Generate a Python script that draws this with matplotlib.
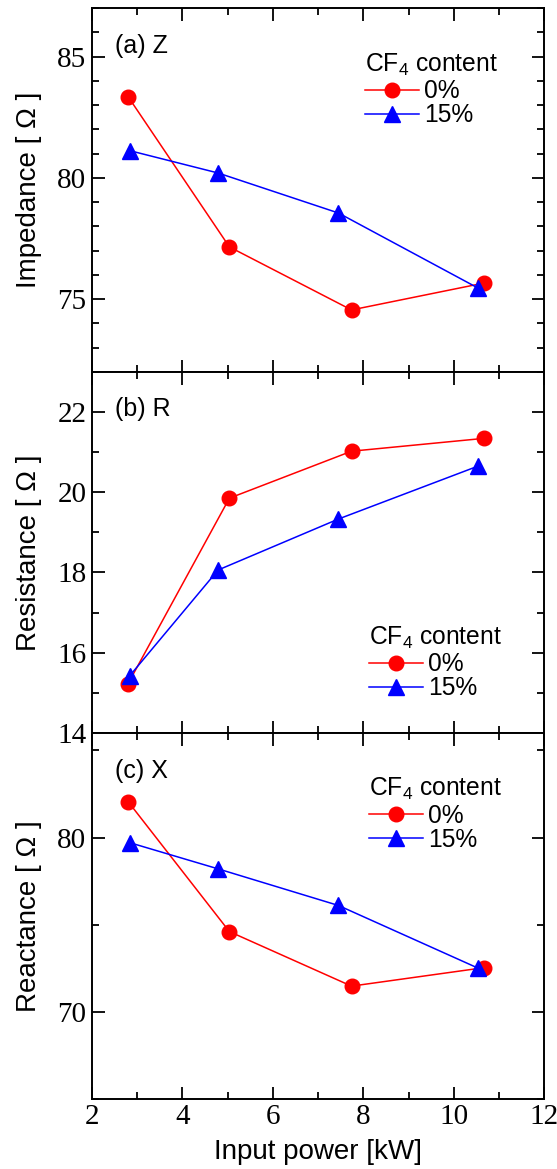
import matplotlib
matplotlib.use('Agg')
import matplotlib.pyplot as plt
from matplotlib.ticker import MultipleLocator

# Data (input power in kW)
power_0 = [2.80, 5.04, 7.74, 10.67]
power_15 = [2.84, 4.79, 7.45, 10.54]

impedance_0 = [83.35, 77.15, 74.55, 75.66]
impedance_15 = [81.12, 80.20, 78.55, 75.45]

resistance_0 = [15.23, 19.85, 21.02, 21.34]
resistance_15 = [15.43, 18.06, 19.33, 20.65]

reactance_0 = [82.06, 74.60, 71.47, 72.53]
reactance_15 = [79.70, 78.20, 76.10, 72.50]

series_labels = ['0%', '15%']
panel_tags = ['(a) Z', '(b) R', '(c) X']
y_labels = ['Impedance [ \u03a9 ]', 'Resistance [ \u03a9 ]', 'Reactance [ \u03a9 ]']

plt.rcParams['font.family'] = 'Liberation Sans'
plt.rcParams['mathtext.fontset'] = 'custom'
plt.rcParams['mathtext.rm'] = 'Liberation Sans'
plt.rcParams['mathtext.it'] = 'Liberation Sans:italic'

fig = plt.figure(figsize=(5.57, 11.69), dpi=100)

# axes boxes in figure fraction: left, bottom, width, height
left, width = 0.165, 0.812
ax_a = fig.add_axes([left, 0.682, width, 0.311])
ax_b = fig.add_axes([left, 0.373, width, 0.309])
ax_c = fig.add_axes([left, 0.060, width, 0.313])
axes = [ax_a, ax_b, ax_c]

data = [
    (impedance_0, impedance_15),
    (resistance_0, resistance_15),
    (reactance_0, reactance_15),
]

# y settings: limits, major step, minor step
y_limits = [(72, 87), (14, 23), (65, 86)]
y_major = [5, 2, 10]
y_minor = [1, 1, 5]

# legend anchor (axes fraction) for each panel
legend_pos = [(0.603, 0.88), (0.613, 0.30), (0.613, 0.882)]

for i, ax in enumerate(axes):
    y0, y15 = data[i]
    ax.plot(power_0, y0, '-o', color='#ff0000', lw=1.1, ms=10.5,
            label=series_labels[0])
    ax.plot(power_15, y15, '-^', color='#0000ff', lw=1.1, ms=11.5,
            label=series_labels[1])

    ax.set_xlim(2, 12)
    ax.set_ylim(*y_limits[i])
    ax.xaxis.set_major_locator(MultipleLocator(2))
    ax.xaxis.set_minor_locator(MultipleLocator(1))
    ax.yaxis.set_major_locator(MultipleLocator(y_major[i]))
    ax.yaxis.set_minor_locator(MultipleLocator(y_minor[i]))

    ax.tick_params(which='both', direction='in', top=True, right=True,
                   width=1.3, labelsize=21, pad=4)
    ax.tick_params(which='major', length=9)
    ax.tick_params(which='minor', length=5)
    for lab in ax.get_xticklabels() + ax.get_yticklabels():
        lab.set_family('Liberation Serif')
    for sp in ax.spines.values():
        sp.set_linewidth(1.4)

    if i < 2:
        ax.tick_params(labelbottom=False)

    ax.set_ylabel(y_labels[i], fontsize=20)
    ax.yaxis.set_label_coords(-0.11, 0.5)

    ax.text(0.05, 0.93, panel_tags[i], transform=ax.transAxes,
            fontsize=18, ha='left', va='top')

    leg = ax.legend(title='CF$_4$ content', loc='upper left',
                    bbox_to_anchor=legend_pos[i], frameon=False,
                    fontsize=17.7, title_fontsize=17.7, handlelength=2.2,
                    handletextpad=0.2, labelspacing=0.0, borderpad=0,
                    borderaxespad=0, alignment='left')
    leg._legend_box.sep = 1

ax_c.set_xlabel('Input power [kW]', fontsize=20, labelpad=6)

fig.savefig('out.png', dpi=100)
